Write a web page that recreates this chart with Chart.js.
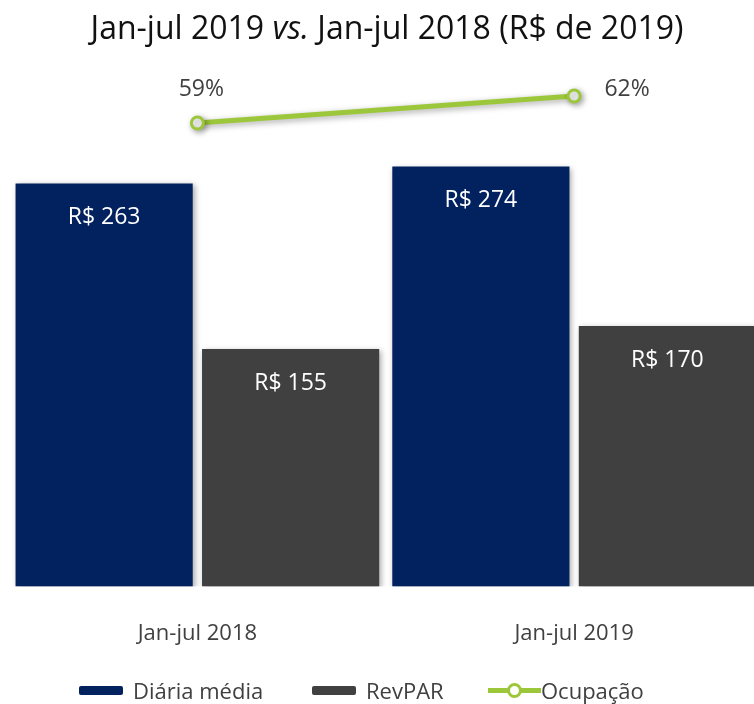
<!DOCTYPE html>
<html lang="pt">
<head>
    <meta charset="UTF-8">
    <title>Diária média, RevPAR e Ocupação</title>
    <script src="https://cdn.jsdelivr.net/npm/chart.js"></script>
    <style>
        body { margin: 0; overflow: hidden; background: #fff; font-family: "Open Sans", sans-serif; }
        #wrap { position: relative; width: 774px; height: 704px; }
        #title { position: absolute; left: 0; width: 774px; top: 5px; text-align: center; font-size: 32px; color: #111; }
        #chart { position: absolute; left: 0; top: 0; }
        .item { position: absolute; top: 674px; display: flex; align-items: center; font-size: 22px; color: #404040; height: 32px; }
        .box { width: 44px; height: 9px; margin-right: 10px; border-radius: 2px; }
        .ln { position: relative; width: 53px; height: 5px; background: #9dc73a; }
        .ln span { position: absolute; left: 19px; top: -5px; width: 15px; height: 15px; border: 3px solid #9dc73a; border-radius: 50%; background: #fff; box-sizing: border-box; }
    </style>
</head>
<body>
<div id="wrap">
    <canvas id="chart" width="774" height="704"></canvas>
    <div id="title">Jan-jul 2019 <i>vs.</i> Jan-jul 2018 (R$ de 2019)</div>
    <div class="item" style="left:79px"><div class="box" style="background:#02215f"></div>Diária média</div>
    <div class="item" style="left:312px"><div class="box" style="background:#404040"></div>RevPAR</div>
    <div class="item" style="left:488px"><div class="ln"><span></span></div>Ocupação</div>
</div>
<script>
    // valores
    const periodos = ['Jan-jul 2018', 'Jan-jul 2019'];
    const diariaMedia = [263, 274];
    const revpar = [155, 170];
    const ocupacao = [59, 62];

    const BLUE = '#02215f';
    const GRAY = '#404040';
    const GREEN = '#9dc73a';

    // sombra suave nas barras e na linha, depois rótulos
    const labelsPlugin = {
        id: 'labels',
        beforeDatasetsDraw(chart) {
            const ctx = chart.ctx;
            ctx.save();
            ctx.shadowColor = 'rgba(0,0,0,0.35)';
            ctx.shadowBlur = 6;
            ctx.shadowOffsetX = 2;
            ctx.shadowOffsetY = 2;
        },
        afterDatasetsDraw(chart) {
            const ctx = chart.ctx;
            ctx.restore();
            ctx.save();
            ctx.textAlign = 'center';
            ctx.textBaseline = 'middle';
            ctx.font = '23px "Open Sans"';
            chart.data.datasets.forEach((ds, i) => {
                const meta = chart.getDatasetMeta(i);
                meta.data.forEach((el, j) => {
                    const v = ds.data[j];
                    if (ds.type === 'line') {
                        ctx.fillStyle = '#404040';
                        const off = j === 0 ? [4, -34] : [53, -7];
                        ctx.fillText(v + '%', el.x + off[0], el.y + off[1]);
                    } else {
                        ctx.fillStyle = '#fff';
                        ctx.fillText('R$ ' + v, el.x, el.y + 34);
                    }
                });
            });
            ctx.restore();
        }
    };

    new Chart(document.getElementById('chart'), {
        type: 'bar',
        data: {
            labels: periodos,
            datasets: [
                { type: 'line', label: 'Ocupação', data: ocupacao, yAxisID: 'y1',
                  borderColor: GREEN, borderWidth: 5, backgroundColor: '#fff',
                  pointRadius: 6, pointBorderWidth: 3, pointBorderColor: GREEN, pointBackgroundColor: '#fff' },
                { label: 'Diária média', data: diariaMedia, backgroundColor: BLUE, yAxisID: 'y' },
                { label: 'RevPAR', data: revpar, backgroundColor: GRAY, yAxisID: 'y' }
            ]
        },
        options: {
            responsive: false,
            animation: false,
            layout: { padding: { left: 8.5, right: 11.5, top: 70, bottom: 31 } },
            datasets: { bar: { categoryPercentage: 0.99, barPercentage: 0.95 } },
            plugins: { legend: { display: false }, tooltip: { enabled: false } },
            scales: {
                x: {
                    grid: { display: false }, border: { display: false },
                    ticks: { padding: 26, color: '#404040', font: { family: 'Open Sans', size: 22 } }
                },
                y: { display: false, min: 0, max: 337 },
                y1: { display: false, min: 7.4, max: 64.9 }
            }
        },
        plugins: [labelsPlugin]
    });
</script>
</body>
</html>
